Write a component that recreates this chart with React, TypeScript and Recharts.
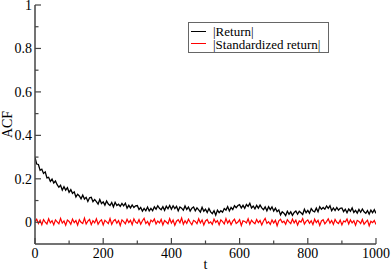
import React from 'react';
import { LineChart, Line, XAxis, YAxis, Legend } from 'recharts';

const LAG_STEP = 5;

const RETURN_ACF = [
  0.299, 0.268, 0.266, 0.239, 0.244, 0.225, 0.232, 0.204, 0.207, 0.188,
  0.199, 0.181, 0.19, 0.173, 0.161, 0.17, 0.148, 0.164, 0.148, 0.159,
  0.138, 0.15, 0.133, 0.14, 0.116, 0.129, 0.121, 0.108, 0.125, 0.107,
  0.115, 0.096, 0.113, 0.115, 0.095, 0.105, 0.095, 0.084, 0.105, 0.086,
  0.094, 0.079, 0.098, 0.084, 0.077, 0.091, 0.071, 0.092, 0.077, 0.083,
  0.073, 0.087, 0.076, 0.088, 0.065, 0.078, 0.066, 0.08, 0.068, 0.076,
  0.077, 0.059, 0.068, 0.051, 0.064, 0.053, 0.07, 0.052, 0.064, 0.053,
  0.071, 0.06, 0.076, 0.064, 0.058, 0.072, 0.055, 0.074, 0.062, 0.077,
  0.06, 0.076, 0.063, 0.073, 0.053, 0.07, 0.065, 0.055, 0.075, 0.059,
  0.07, 0.052, 0.065, 0.07, 0.053, 0.066, 0.057, 0.047, 0.069, 0.051,
  0.06, 0.045, 0.063, 0.048, 0.04, 0.053, 0.033, 0.056, 0.044, 0.053,
  0.046, 0.063, 0.056, 0.072, 0.052, 0.068, 0.059, 0.076, 0.067, 0.077,
  0.081, 0.066, 0.078, 0.064, 0.082, 0.073, 0.087, 0.066, 0.075, 0.062,
  0.078, 0.065, 0.079, 0.066, 0.058, 0.071, 0.053, 0.072, 0.058, 0.071,
  0.052, 0.065, 0.049, 0.057, 0.034, 0.048, 0.042, 0.031, 0.051, 0.037,
  0.048, 0.032, 0.045, 0.052, 0.037, 0.051, 0.044, 0.036, 0.06, 0.044,
  0.055, 0.042, 0.063, 0.052, 0.048, 0.065, 0.048, 0.072, 0.06, 0.068,
  0.06, 0.075, 0.064, 0.076, 0.053, 0.066, 0.054, 0.068, 0.056, 0.064,
  0.066, 0.049, 0.06, 0.044, 0.061, 0.051, 0.066, 0.045, 0.055, 0.042,
  0.059, 0.046, 0.061, 0.048, 0.041, 0.054, 0.037, 0.056, 0.044, 0.058,
  0.041,
];

// ACF of |standardized return|
const STD_RETURN_ACF = [
  0.003, 0.014, -0.006, 0.009, -0.011, 0.012, 0.001, -0.008, 0.016, -0.003,
  0.007, -0.012, 0.011, 0.002, -0.007, 0.018, -0.004, 0.006, -0.014, 0.01,
  0.004, -0.009, 0.015, -0.002, 0.008, -0.013, 0.012, 0.0, -0.006, 0.019,
  -0.008, 0.005, 0.013, -0.011, 0.007, -0.003, 0.016, -0.009, 0.004, 0.011,
  -0.012, 0.009, 0.002, -0.006, 0.017, -0.01, 0.006, 0.013, -0.004, 0.008,
  -0.015, 0.011, 0.003, -0.007, 0.014, -0.002, 0.009, -0.011, 0.016, 0.001,
  -0.005, 0.012, -0.009, 0.007, 0.018, -0.006, 0.004, -0.013, 0.01, 0.002,
  0.015, -0.008, 0.006, -0.003, 0.013, -0.012, 0.008, 0.001, -0.007, 0.017,
  -0.004, 0.01, -0.014, 0.005, 0.012, -0.002, 0.02, -0.009, 0.007, -0.005,
  0.014, 0.0, -0.011, 0.009, 0.004, -0.007, 0.016, -0.003, 0.011, -0.013,
  0.006, 0.013, -0.005, 0.002, -0.01, 0.015, -0.001, 0.008, -0.012, 0.011,
  0.003, -0.008, 0.017, -0.004, 0.009, -0.011, 0.005, 0.014, -0.006, 0.001,
  0.012, -0.015, 0.007, 0.004, -0.003, 0.016, -0.009, 0.01, 0.0, -0.007,
  0.013, -0.002, 0.008, -0.012, 0.006, 0.018, -0.005, 0.003, -0.01, 0.011,
  -0.004, 0.009, -0.016, 0.007, 0.014, -0.001, 0.005, -0.009, 0.012, 0.002,
  -0.006, 0.015, -0.003, 0.01, -0.013, 0.006, 0.001, 0.017, -0.008, 0.004,
  0.011, -0.005, 0.007, -0.011, 0.014, -0.002, 0.009, -0.015, 0.006, 0.012,
  -0.007, 0.003, 0.016, -0.004, 0.008, -0.01, 0.013, 0.0, -0.006, 0.01,
  -0.012, 0.006, 0.002, 0.015, -0.008, 0.011, -0.003, 0.007, -0.014, 0.009,
  0.004, -0.006, 0.013, -0.009, 0.001, 0.01, -0.016, 0.005, -0.002, 0.008,
  -0.01,
];

const X_TICKS = [0, 100, 200, 300, 400, 500, 600, 700, 800, 900, 1000];
const X_LABELED = [0, 200, 400, 600, 800, 1000];
const Y_TICKS = [0, 0.1, 0.2, 0.3, 0.4, 0.5, 0.6, 0.7, 0.8, 0.9, 1];
const Y_LABELED = [0, 0.2, 0.4, 0.6, 0.8, 1];

const FONT = 'Liberation Serif';
const FRAME = '#444';
const MAJOR = 6;
const MINOR = 3.5;

const data = RETURN_ACF.map((v, i) => ({ t: i * LAG_STEP, ret: v, std: STD_RETURN_ACF[i] }));

const LeftTick = (props: any) => {
  const { x, y, payload } = props;
  const major = Y_LABELED.includes(payload.value);
  return (
    <g>
      <line x1={x} x2={x + (major ? MAJOR : MINOR)} y1={y} y2={y} stroke={FRAME} strokeWidth={1.2} />
      {major && (
        <text x={x - 3} y={y} dy={5} textAnchor="end" fontFamily={FONT} fontSize={14} fill="#000">
          {String(payload.value)}
        </text>
      )}
    </g>
  );
};

const RightTick = (props: any) => {
  const { x, y, payload } = props;
  const major = Y_LABELED.includes(payload.value);
  return <line x1={x} x2={x - (major ? MAJOR : MINOR)} y1={y} y2={y} stroke={FRAME} strokeWidth={1.2} />;
};

const BottomTick = (props: any) => {
  const { x, y, payload } = props;
  const major = X_LABELED.includes(payload.value);
  return (
    <g>
      <line x1={x} x2={x} y1={y} y2={y - (major ? MAJOR : MINOR)} stroke={FRAME} strokeWidth={1.2} />
      {major && (
        <text x={x} y={y} dy={14} textAnchor="middle" fontFamily={FONT} fontSize={14} fill="#000">
          {String(payload.value)}
        </text>
      )}
    </g>
  );
};

const TopTick = (props: any) => {
  const { x, y, payload } = props;
  const major = X_LABELED.includes(payload.value);
  return <line x1={x} x2={x} y1={y} y2={y + (major ? MAJOR : MINOR)} stroke={FRAME} strokeWidth={1.2} />;
};

const AcfLabel = (props: any) => {
  const { viewBox } = props;
  const cx = viewBox.x + 12;
  const cy = viewBox.y + viewBox.height / 2;
  return (
    <text x={cx} y={cy} transform={`rotate(-90 ${cx} ${cy})`} textAnchor="middle" fontFamily={FONT} fontSize={14} fill="#000">
      ACF
    </text>
  );
};

const TLabel = (props: any) => {
  const { viewBox } = props;
  return (
    <text x={viewBox.x + viewBox.width / 2} y={viewBox.y + 25} textAnchor="middle" fontFamily={FONT} fontSize={14} fill="#000">
      t
    </text>
  );
};

const LegendBox = () => (
  <svg width={141} height={31} style={{ display: 'block' }}>
    <rect x={0.5} y={0.5} width={140} height={30} fill="#fff" stroke="#666" strokeWidth={1} />
    <line x1={3} x2={18} y1={9.5} y2={9.5} stroke="#000" strokeWidth={1} />
    <line x1={3} x2={18} y1={21.5} y2={21.5} stroke="#ff0000" strokeWidth={1} />
    <text x={25} y={13.5} fontFamily={FONT} fontSize={13} fill="#000">|Return|</text>
    <text x={25} y={26.5} fontFamily={FONT} fontSize={13} fill="#000">|Standardized return|</text>
  </svg>
);

export default function App() {
  return (
    <div style={{ position: 'absolute', left: 0, top: 0, background: '#fff' }}>
      <LineChart width={391} height={271} data={data} margin={{ top: 5, right: 15, bottom: 0, left: 0 }}>
        <XAxis
          dataKey="t"
          type="number"
          domain={[0, 1000]}
          ticks={X_TICKS}
          interval={0}
          allowDataOverflow
          height={27}
          tickSize={0}
          tickMargin={0}
          tick={<BottomTick />}
          axisLine={{ stroke: FRAME, strokeWidth: 1.5 }}
          label={{ content: TLabel }}
        />
        <XAxis
          xAxisId="top"
          orientation="top"
          dataKey="t"
          type="number"
          domain={[0, 1000]}
          ticks={X_TICKS}
          interval={0}
          allowDataOverflow
          height={0}
          tickSize={0}
          tickMargin={0}
          tick={<TopTick />}
          axisLine={{ stroke: FRAME, strokeWidth: 1.5 }}
        />
        <YAxis
          type="number"
          domain={[-0.1, 1]}
          ticks={Y_TICKS}
          interval={0}
          allowDataOverflow
          width={35}
          tickSize={0}
          tickMargin={0}
          tick={<LeftTick />}
          axisLine={{ stroke: FRAME, strokeWidth: 1.5 }}
          label={{ content: AcfLabel }}
        />
        <YAxis
          yAxisId="right"
          orientation="right"
          type="number"
          domain={[-0.1, 1]}
          ticks={Y_TICKS}
          interval={0}
          allowDataOverflow
          width={0}
          tickSize={0}
          tickMargin={0}
          tick={<RightTick />}
          axisLine={{ stroke: FRAME, strokeWidth: 1.5 }}
        />
        <Legend
          layout="vertical"
          align="center"
          verticalAlign="middle"
          content={LegendBox}
          wrapperStyle={{ left: 188, top: 22, width: 141, height: 31 }}
        />
        <Line dataKey="ret" name="|Return|" stroke="#000" strokeWidth={1.3} dot={false} isAnimationActive={false} />
        <Line dataKey="std" name="|Standardized return|" stroke="#ff0000" strokeWidth={1.2} dot={false} isAnimationActive={false} />
      </LineChart>
    </div>
  );
}
